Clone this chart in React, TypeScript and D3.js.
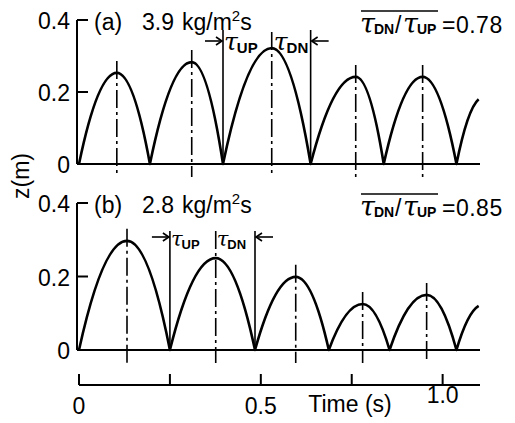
import React from 'react';
import * as d3 from 'd3';

// panel (a) 3.9 kg/m2s : bounce minima, peaks, and the last rising point
const minTimesA = [0, 0.195, 0.396, 0.637, 0.838, 1.038];
const peakTimesA = [0.104, 0.31, 0.53, 0.761, 0.945];
const peakZA = [0.253, 0.283, 0.322, 0.242, 0.242];
const tailA = [1.099, 0.18];
const markTimesA = [0.396, 0.637];

// panel (b) 2.8 kg/m2s
const minTimesB = [0, 0.25, 0.484, 0.687, 0.854, 1.038];
const peakTimesB = [0.132, 0.376, 0.596, 0.78, 0.956];
const peakZB = [0.297, 0.25, 0.199, 0.125, 0.15];
const tailB = [1.099, 0.12];
const markTimesB = [0.25, 0.484];

const zTicks = [0, 0.2, 0.4];
const zTickLabels = ['0', '0.2', '0.4'];
const timeTicks = [0, 0.25, 0.5, 0.75, 1.0];
const timeLabels = ['0', '', '0.5', '', '1.0'];

const FONT = 'Liberation Sans, Arial, sans-serif';
const TAU = 'DejaVu Serif, serif';

const x = d3.scaleLinear().domain([0, 1.1]).range([79, 479]);

function bouncePath(y, mins, peakT, peakZ, tail) {
  const p = d3.path();
  p.moveTo(x(mins[0]), y(0));
  peakT.forEach((t, i) => {
    const x0 = x(mins[i]);
    const xp = x(t);
    const x1 = x(mins[i + 1]);
    const yp = y(peakZ[i]);
    // each half of an arch is a parabola: quadratic bezier with flat apex
    p.quadraticCurveTo((x0 + xp) / 2, yp, xp, yp);
    p.quadraticCurveTo((xp + x1) / 2, yp, x1, y(0));
  });
  const xs = x(mins[mins.length - 1]);
  const xe = x(tail[0]);
  const ye = y(tail[1]);
  p.quadraticCurveTo(xs + (xe - xs) * 0.5, y(0) + (ye - y(0)) * 0.85, xe, ye);
  return p.toString();
}

const Tau = ({ x0, y0, sub, size, subSize, dy = 3 }) => (
  <text x={x0} y={y0} fontFamily={TAU} fontStyle="italic" fontSize={size}>
    τ
    <tspan fontFamily={FONT} fontWeight="bold" fontSize={subSize} fontStyle="normal" dx={-1} dy={dy}>
      {sub}
    </tspan>
  </text>
);

const Panel = ({ y, mins, peakT, peakZ, tail, marks, label, ratio, markTop, annY, small }) => {
  const axisX = 77;
  const y0 = y(0);
  const top = y(0.4);
  const tauSize = small ? 21 : 25;
  const subSize = small ? 13 : 15;
  return (
    <g>
      {/* z axis */}
      <line x1={axisX} x2={axisX} y1={top} y2={y0} stroke="#000" strokeWidth={2} />
      <line x1={axisX} x2={480} y1={y0} y2={y0} stroke="#000" strokeWidth={2} />
      {zTicks.map((v, i) => (
        <g key={v}>
          {v > 0 && <line x1={axisX} x2={88} y1={y(v)} y2={y(v)} stroke="#000" strokeWidth={2} />}
          <text x={70} y={y(v) + 9} textAnchor="end" fontFamily={FONT} fontSize={23}>
            {zTickLabels[i]}
          </text>
        </g>
      ))}
      {/* dash-dot lines through the peaks */}
      {peakT.map((t, i) => (
        <line
          key={t}
          x1={x(t)}
          x2={x(t)}
          y1={Math.min(y(peakZ[i]) - 12, i === 1 && small ? markTop : 1e9, i === 2 && !small ? markTop + 2 : 1e9)}
          y2={y0 + 13}
          stroke="#000"
          strokeWidth={1.6}
          strokeDasharray="18,4,3,4"
        />
      ))}
      {/* solid marker lines at bounces */}
      {marks.map((t) => (
        <line key={t} x1={x(t)} x2={x(t)} y1={markTop} y2={y0} stroke="#000" strokeWidth={1.6} />
      ))}
      <path d={bouncePath(y, mins, peakT, peakZ, tail)} fill="none" stroke="#000" strokeWidth={2.6} strokeLinejoin="round" />
      {/* tau annotations */}
      <g>
        <line x1={x(marks[0]) - 18} x2={x(marks[0]) - 2} y1={annY - 9} y2={annY - 9} stroke="#000" strokeWidth={1.6} />
        <path d={`M${x(marks[0]) - 7},${annY - 13}L${x(marks[0]) - 1},${annY - 9}L${x(marks[0]) - 7},${annY - 5}`} fill="none" stroke="#000" strokeWidth={1.6} />
        <line x1={x(marks[1]) + 18} x2={x(marks[1]) + 2} y1={annY - 9} y2={annY - 9} stroke="#000" strokeWidth={1.6} />
        <path d={`M${x(marks[1]) + 7},${annY - 13}L${x(marks[1]) + 1},${annY - 9}L${x(marks[1]) + 7},${annY - 5}`} fill="none" stroke="#000" strokeWidth={1.6} />
        <Tau x0={x(marks[0]) + 1} y0={annY} sub="UP" size={tauSize} subSize={subSize} />
        <Tau x0={small ? x(peakT[1]) + 1 : x(peakT[2]) + 2} y0={annY} sub="DN" size={tauSize} subSize={subSize} />
      </g>
      {/* panel title */}
      <text y={top + 10} fontFamily={FONT} fontSize={23}>
        <tspan x={94}>{label[0]}</tspan>
        <tspan x={142}>{label[1]}</tspan>
        <tspan x={182}>kg/m</tspan>
        <tspan fontSize={15} dy={-9}>2</tspan>
        <tspan dy={9}>s</tspan>
      </text>
      {/* mean ratio */}
      <line x1={361} x2={438} y1={top - 9} y2={top - 9} stroke="#000" strokeWidth={1.6} />
      <Tau x0={360} y0={top + 13} sub="DN" size={27} subSize={14} dy={1} />
      <text x={395} y={top + 13} fontFamily={FONT} fontSize={23}>/</text>
      <Tau x0={403} y0={top + 13} sub="UP" size={27} subSize={14} dy={1} />
      <text x={442} y={top + 13} fontFamily={FONT} fontSize={23} letterSpacing={0.5}>
        ={ratio}
      </text>
    </g>
  );
};

export default function App() {
  const yA = d3.scaleLinear().domain([0, 0.4]).range([164, 20]);
  const yB = d3.scaleLinear().domain([0, 0.4]).range([350, 203]);
  const axisY = 385;
  return (
    <svg width={515} height={423} style={{ position: 'absolute', left: 0, top: 0, background: '#fff' }}>
      <Panel y={yA} mins={minTimesA} peakT={peakTimesA} peakZ={peakZA} tail={tailA} marks={markTimesA}
        label={['(a)', '3.9']} ratio="0.78" markTop={30} annY={50} small={false} />
      <Panel y={yB} mins={minTimesB} peakT={peakTimesB} peakZ={peakZB} tail={tailB} marks={markTimesB}
        label={['(b)', '2.8']} ratio="0.85" markTop={231} annY={246} small={true} />
      <text transform="translate(29,176) rotate(-90)" textAnchor="middle" fontFamily={FONT} fontSize={23}>
        z(m)
      </text>
      {/* time axis */}
      <line x1={x(0)} x2={480} y1={axisY} y2={axisY} stroke="#000" strokeWidth={2} />
      {timeTicks.map((t, i) => (
        <g key={t}>
          <line x1={x(t)} x2={x(t)} y1={axisY - 11} y2={axisY} stroke="#000" strokeWidth={2} />
          <text x={x(t)} y={i === 4 ? 403 : 414} textAnchor="middle" fontFamily={FONT} fontSize={23}>
            {timeLabels[i]}
          </text>
        </g>
      ))}
      <text x={350} y={412} textAnchor="middle" fontFamily={FONT} fontSize={23}>
        Time (s)
      </text>
    </svg>
  );
}
